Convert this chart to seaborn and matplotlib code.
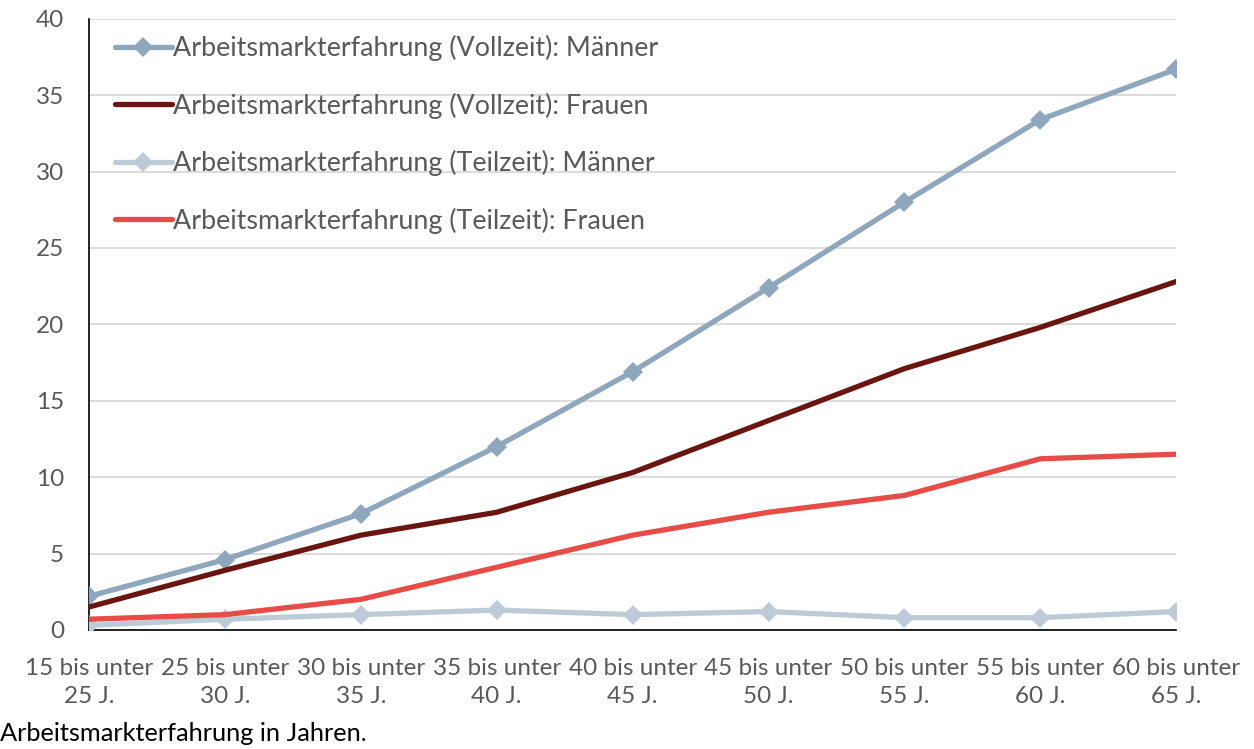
import numpy as np
import pandas as pd
import matplotlib
matplotlib.use("Agg")
import matplotlib.pyplot as plt
import seaborn as sns

# age groups on the x axis
age_groups = ["15 bis unter\n25 J.", "25 bis unter\n30 J.", "30 bis unter\n35 J.",
              "35 bis unter\n40 J.", "40 bis unter\n45 J.", "45 bis unter\n50 J.",
              "50 bis unter\n55 J.", "55 bis unter\n60 J.", "60 bis unter\n65 J."]

# years of labour market experience
vollzeit_maenner = [2.2, 4.6, 7.6, 12.0, 16.9, 22.4, 28.0, 33.4, 36.7]
vollzeit_frauen = [1.5, 3.9, 6.2, 7.7, 10.3, 13.7, 17.1, 19.8, 22.8]
teilzeit_maenner = [0.3, 0.7, 1.0, 1.3, 1.0, 1.2, 0.8, 0.8, 1.2]
teilzeit_frauen = [0.7, 1.0, 2.0, 4.1, 6.2, 7.7, 8.8, 11.2, 11.5]

series_names = ["Arbeitsmarkterfahrung (Vollzeit): Männer",
                "Arbeitsmarkterfahrung (Vollzeit): Frauen",
                "Arbeitsmarkterfahrung (Teilzeit): Männer",
                "Arbeitsmarkterfahrung (Teilzeit): Frauen"]
colors = ["#8FA7BD", "#6B1510", "#BDCAD7", "#E84C46"]
markers = ["D", "", "D", ""]


def build_frame():
    rows = []
    for name, vals in zip(series_names, [vollzeit_maenner, vollzeit_frauen,
                                          teilzeit_maenner, teilzeit_frauen]):
        for i, v in enumerate(vals):
            rows.append({"pos": i, "value": v, "series": name})
    return pd.DataFrame(rows)


def main():
    sns.set_theme(style="white")
    plt.rcParams["font.family"] = ["Lato", "DejaVu Sans"]

    df = build_frame()

    fig, ax = plt.subplots(figsize=(12.54, 7.49), dpi=100)
    fig.subplots_adjust(left=0.071, right=0.938, top=0.975, bottom=0.159)

    for name, col, mk in zip(series_names, colors, markers):
        sub = df[df["series"] == name]
        sns.lineplot(data=sub, x="pos", y="value", ax=ax, color=col, linewidth=3.8,
                     marker=mk if mk else None, markersize=10, markeredgewidth=0,
                     label=name, zorder=3)

    ax.set_ylim(0, 40)
    ax.set_xlim(0, len(age_groups) - 1)
    ax.set_yticks(np.arange(0, 41, 5))
    ax.set_xticks(range(len(age_groups)))
    ax.set_xticklabels(age_groups, linespacing=1.45)
    ax.set_xlabel("")
    ax.set_ylabel("")

    ax.grid(axis="y", color="#D9D9D9", linewidth=1.3)
    ax.set_axisbelow(True)
    for s in ["top", "right"]:
        ax.spines[s].set_visible(False)
    ax.spines["left"].set_color("black")
    ax.spines["bottom"].set_color("black")
    ax.spines["left"].set_linewidth(1.2)
    ax.spines["bottom"].set_linewidth(1.2)

    ax.tick_params(axis="both", which="major", direction="out", length=6, width=1.2,
                   color="black", labelcolor="#595959", labelsize=17.5)
    ax.tick_params(axis="x", pad=14)
    ax.tick_params(axis="y", pad=12)

    leg = ax.legend(loc="upper left", frameon=False, fontsize=19.4,
                    handlelength=2.1, handletextpad=0.05, labelspacing=1.17,
                    borderaxespad=0.2, bbox_to_anchor=(0.009, 1.0))
    for t in leg.get_texts():
        t.set_color("#595959")

    fig.text(0.0, 0.005, "Arbeitsmarkterfahrung in Jahren.", fontsize=18.3, color="black",
             ha="left", va="bottom")

    fig.savefig("out.png", dpi=100)


if __name__ == "__main__":
    main()
